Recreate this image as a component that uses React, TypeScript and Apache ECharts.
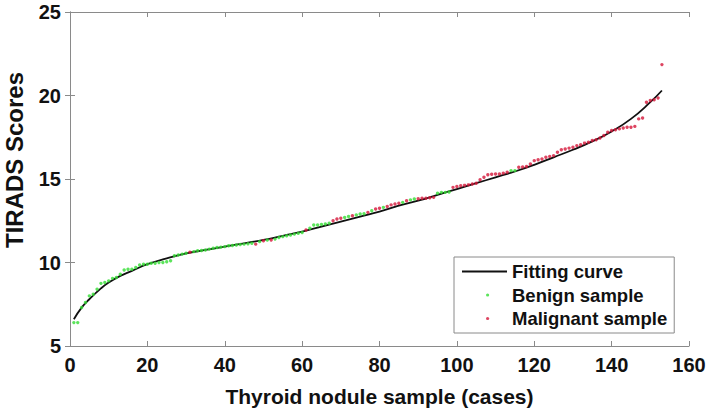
import React, { useEffect, useRef } from "react";
import * as echarts from "echarts";

// Fitting curve
const fitX = [1, 3, 5, 8, 10, 13, 16, 20, 25, 30, 35, 40, 45, 50, 55, 60, 65, 70, 75, 80, 85, 90, 95, 100, 105, 110, 115, 120, 125, 130, 135, 140, 145, 150, 153];
const fitY = [6.6, 7.3, 7.8, 8.45, 8.8, 9.2, 9.5, 9.9, 10.25, 10.55, 10.75, 10.95, 11.15, 11.35, 11.6, 11.85, 12.15, 12.45, 12.75, 13.05, 13.4, 13.7, 14.05, 14.4, 14.75, 15.1, 15.45, 15.85, 16.3, 16.75, 17.25, 17.85, 18.6, 19.6, 20.3];

// Benign samples [case index, score]
const benign: [number, number][] = [
  [1, 6.4], [2, 6.4], [3, 7.3], [4, 7.6], [5, 8.0], [6, 8.1], [7, 8.4], [8, 8.75], [9, 8.8], [10, 8.9],
  [11, 9.05], [12, 9.1], [13, 9.3], [14, 9.55], [15, 9.6], [16, 9.6], [17, 9.7], [18, 9.85], [19, 9.9], [20, 9.9],
  [21, 9.95], [22, 9.95], [23, 10.0], [24, 10.0], [25, 10.05], [26, 10.1], [27, 10.4], [28, 10.45], [29, 10.5], [30, 10.55],
  [32, 10.65], [33, 10.7], [34, 10.72], [35, 10.75], [36, 10.8], [37, 10.85], [38, 10.9], [39, 10.92], [40, 10.95],
  [41, 11.0], [42, 11.02], [43, 11.05], [44, 11.08], [45, 11.1], [46, 11.12], [47, 11.15], [49, 11.25], [51, 11.35],
  [53, 11.4], [54, 11.5], [55, 11.55], [56, 11.6], [57, 11.65], [58, 11.7], [59, 11.75], [60, 11.8],
  [62, 12.05], [63, 12.25], [64, 12.25], [65, 12.28], [66, 12.3], [67, 12.35], [71, 12.7], [72, 12.75],
  [74, 12.85], [75, 12.9], [76, 12.92], [78, 13.1], [81, 13.3], [86, 13.6], [88, 13.75], [89, 13.8],
  [95, 14.15], [96, 14.2], [97, 14.2], [98, 14.22], [114, 15.5], [115, 15.5]
];

// Malignant samples [case index, score]
const malignant: [number, number][] = [
  [31, 10.62], [48, 11.1], [50, 11.3], [52, 11.35], [61, 11.95], [68, 12.5], [69, 12.6], [70, 12.65],
  [73, 12.8], [77, 13.0], [79, 13.2], [80, 13.25], [82, 13.35], [83, 13.45], [84, 13.5], [85, 13.55],
  [87, 13.7], [90, 13.82], [91, 13.85], [92, 13.85], [93, 13.88], [94, 13.9], [99, 14.5], [100, 14.55],
  [101, 14.6], [102, 14.62], [103, 14.65], [104, 14.7], [105, 14.75], [106, 14.95], [107, 15.1], [108, 15.25],
  [109, 15.28], [110, 15.3], [111, 15.3], [112, 15.35], [113, 15.4], [116, 15.7], [117, 15.72], [118, 15.75],
  [119, 15.9], [120, 16.1], [121, 16.15], [122, 16.2], [123, 16.3], [124, 16.35], [125, 16.4], [126, 16.6],
  [127, 16.75], [128, 16.8], [129, 16.85], [130, 16.9], [131, 17.0], [132, 17.05], [133, 17.15], [134, 17.2],
  [135, 17.3], [136, 17.35], [137, 17.45], [138, 17.6], [139, 17.8], [140, 17.9], [141, 17.95], [142, 18.0],
  [143, 18.05], [144, 18.1], [145, 18.1], [146, 18.15], [147, 18.6], [148, 18.65], [149, 19.6], [150, 19.7],
  [151, 19.75], [152, 19.85], [153, 21.85]
];

const seriesNames = ["Fitting curve", "Benign sample", "Malignant sample"];
const xTitle = "Thyroid nodule sample (cases)";
const yTitle = "TIRADS Scores";

const FONT = "'Liberation Sans', Arial, Helvetica, sans-serif";
const AXIS_GRAY = "#8a8a8a";
const DOT_ICON = "path://M0,0M45,0M45,14M0,14M24,7a1.6,1.6 0 1,0 3.2,0a1.6,1.6 0 1,0 -3.2,0z";
const LINE_ICON = "path://M0,0M45,14M0,6.1L45,6.1L45,7.9L0,7.9Z";

export default function App() {
  const ref = useRef<HTMLDivElement>(null);
  useEffect(() => {
    if (!ref.current) return;
    const chart = echarts.init(ref.current, undefined, { renderer: "svg" });
    const tickLabel = { color: "#111", fontWeight: "bold" as const, fontSize: 20, fontFamily: FONT };
    const axisLine = { show: true, lineStyle: { color: AXIS_GRAY, width: 1 } };
    const axisTick = { show: true, inside: true, length: 5, lineStyle: { color: AXIS_GRAY } };
    chart.setOption({
      animation: false,
      backgroundColor: "#fff",
      grid: { left: 70, right: 19, top: 12, bottom: 71, containLabel: false, outerBoundsMode: "none" },
      legend: {
        orient: "vertical",
        left: 454,
        top: 257,
        padding: [5, 7, 5, 8],
        itemWidth: 45,
        itemHeight: 14,
        itemGap: 4.5,
        borderColor: AXIS_GRAY,
        borderWidth: 1,
        backgroundColor: "#fff",
        textStyle: { color: "#111", fontWeight: "bold", fontSize: 18.5, fontFamily: FONT },
        data: [
          { name: seriesNames[0], icon: LINE_ICON, itemStyle: { color: "#111" } },
          { name: seriesNames[1], icon: DOT_ICON },
          { name: seriesNames[2], icon: DOT_ICON },
        ],
      },
      xAxis: [
        {
          type: "value", min: 0, max: 160, interval: 20, position: "bottom",
          name: xTitle, nameLocation: "middle", nameGap: 40,
          nameTextStyle: { color: "#111", fontWeight: "bold", fontSize: 21, fontFamily: FONT },
          axisLine, axisTick, axisLabel: { ...tickLabel, margin: 9 }, splitLine: { show: false },
        },
        {
          type: "value", min: 0, max: 160, interval: 20, position: "top",
          axisLine, axisTick, axisLabel: { show: false }, splitLine: { show: false },
        },
      ],
      yAxis: [
        {
          type: "value", min: 5, max: 25, interval: 5, position: "left",
          name: yTitle, nameLocation: "middle", nameGap: 44, nameRotate: 90,
          nameTextStyle: { color: "#111", fontWeight: "bold", fontSize: 24, fontFamily: FONT, padding: [0, 0, 0, 38] },
          axisLine, axisTick, axisLabel: { ...tickLabel, margin: 9 }, splitLine: { show: false },
        },
        {
          type: "value", min: 5, max: 25, interval: 5, position: "right",
          axisLine, axisTick, axisLabel: { show: false }, splitLine: { show: false },
        },
      ],
      series: [
        {
          name: seriesNames[0],
          type: "line",
          data: fitX.map((x, i) => [x, fitY[i]]),
          smooth: 0.5,
          symbol: "none",
          lineStyle: { color: "#111", width: 1.8 },
          itemStyle: { color: "#111" },
          z: 2,
        },
        {
          name: seriesNames[1],
          type: "scatter",
          data: benign,
          symbol: "circle",
          symbolSize: 3.4,
          itemStyle: { color: "#33dd33" },
          z: 3,
        },
        {
          name: seriesNames[2],
          type: "scatter",
          data: malignant,
          symbol: "circle",
          symbolSize: 3.4,
          itemStyle: { color: "#d4163a" },
          z: 3,
        },
      ],
    });
    return () => chart.dispose();
  }, []);
  return (
    <div
      ref={ref}
      style={{ position: "fixed", left: 0, top: 0, width: 708, height: 417, background: "#fff" }}
    />
  );
}
